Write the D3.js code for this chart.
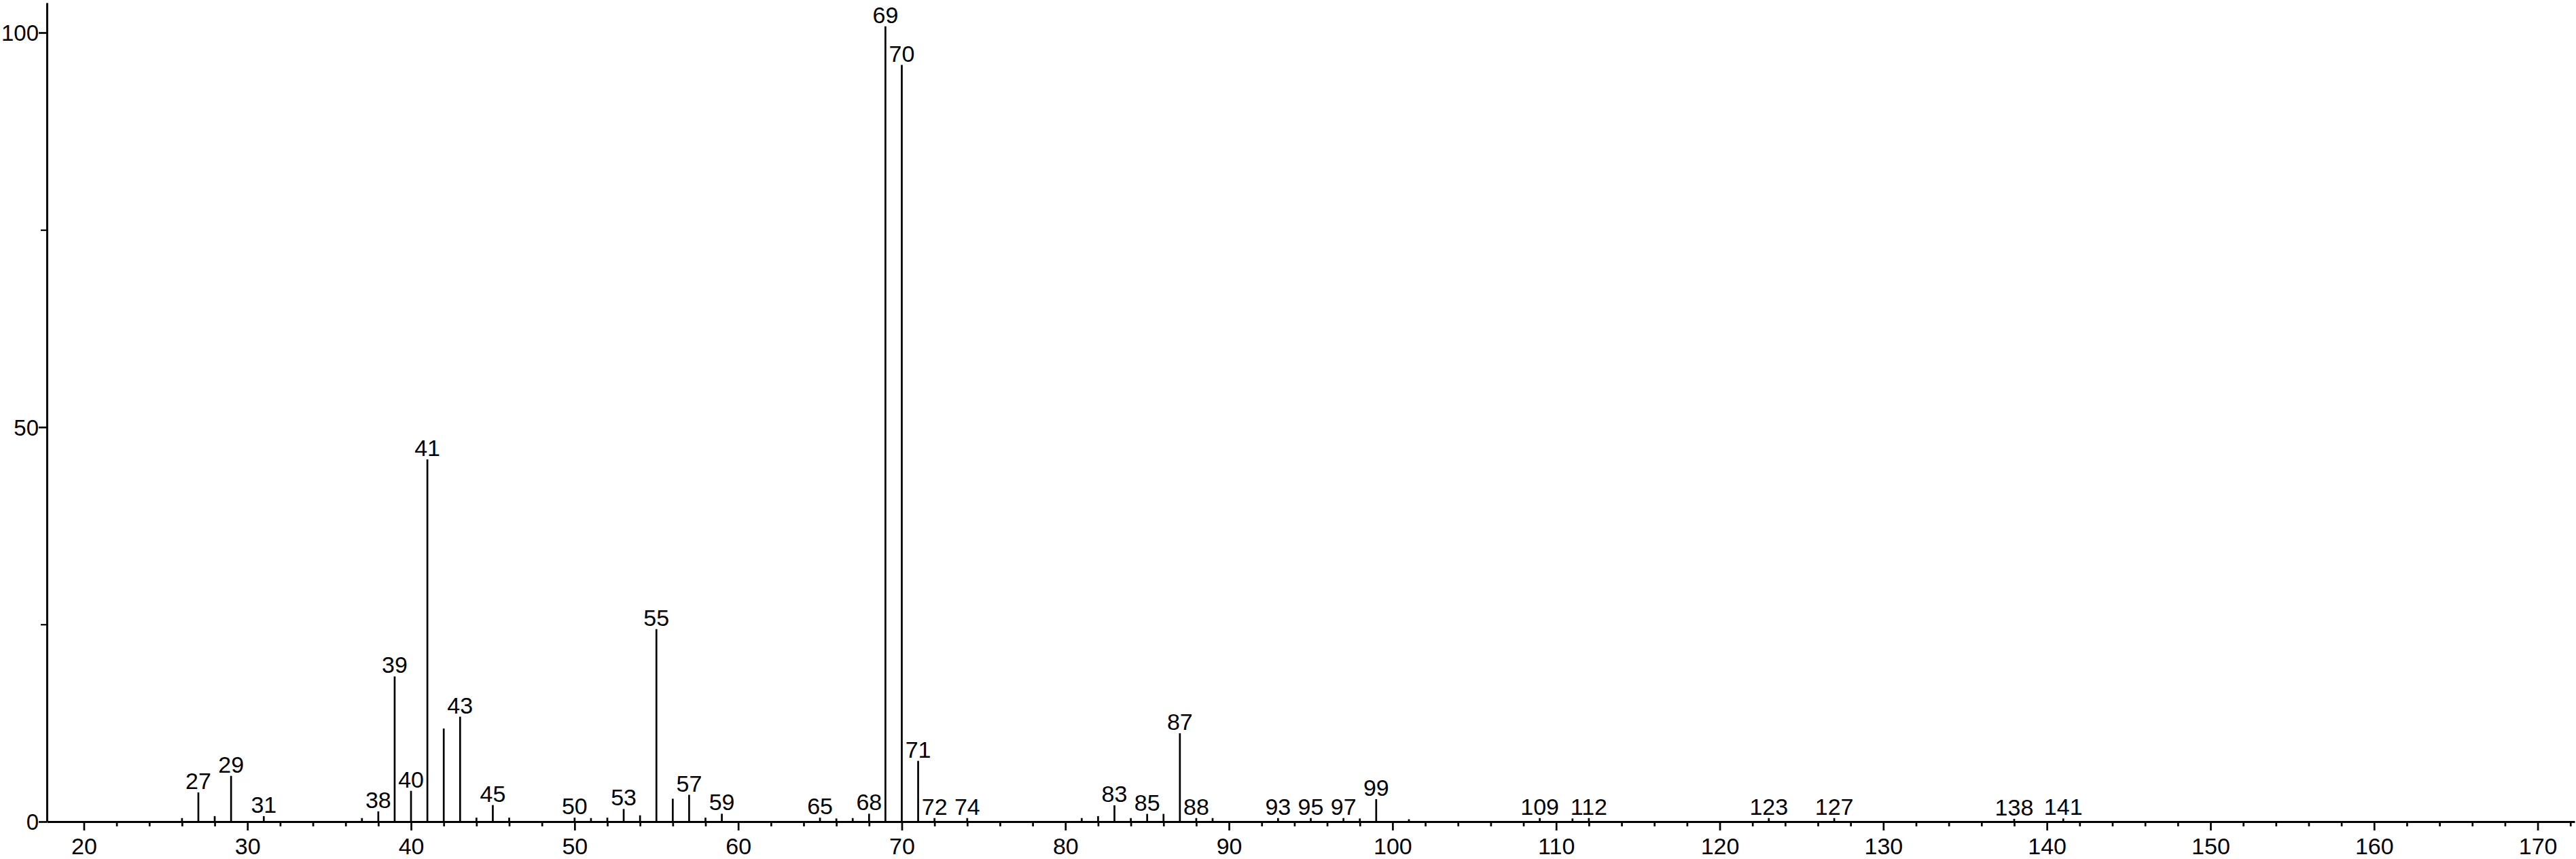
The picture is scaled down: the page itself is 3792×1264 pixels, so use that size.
<!DOCTYPE html>
<html>
<head>
<meta charset="utf-8">
<script src="https://cdn.jsdelivr.net/npm/d3@7/dist/d3.min.js"></script>
<style>
  html, body { margin: 0; padding: 0; background: #fff; }
  svg { display: block; }
  text { font-family: "Liberation Sans", Arial, Helvetica, sans-serif; fill: #000; }
</style>
</head>
<body>
<svg id="chart" width="3792" height="1264"></svg>
<script>
// m/z values of the peaks
const masses = [26, 27, 28, 29, 31, 37, 38, 39, 40, 41, 42, 43, 44, 45, 46,
  50, 51, 52, 53, 54, 55, 56, 57, 58, 59, 65, 66, 67, 68, 69, 70, 71, 72, 74,
  81, 82, 83, 84, 85, 86, 87, 88, 89, 93, 95, 97, 98, 99, 101,
  109, 111, 112, 123, 127, 138, 141];
// relative intensities
const intensities = [0.45, 3.7, 0.7, 5.8, 0.7, 0.45, 1.3, 18.4, 3.9, 45.9, 11.8, 13.3, 0.5, 2.1, 0.5,
  0.5, 0.45, 0.5, 1.6, 0.8, 24.4, 2.9, 3.4, 0.5, 1.0, 0.5, 0.4, 0.45, 1.0, 100.8, 95.9, 7.7, 0.45, 0.45,
  0.45, 0.7, 2.07, 0.45, 0.98, 0.98, 11.2, 0.45, 0.45, 0.45, 0.45, 0.45, 0.4, 2.85, 0.3,
  0.45, 0.4, 0.45, 0.45, 0.45, 0.35, 0.4];
// peaks that carry a label
const labeledMasses = [27, 29, 31, 38, 39, 40, 41, 43, 45, 50, 53, 55, 57, 59, 65, 68, 69, 70, 71, 72, 74,
  83, 85, 87, 88, 93, 95, 97, 99, 109, 112, 123, 127, 138, 141];
// axis ticks
const xMajorTicks = [20, 30, 40, 50, 60, 70, 80, 90, 100, 110, 120, 130, 140, 150, 160, 170];
const xMinorTicks = d3.range(22, 173, 2).filter(v => v % 10 !== 0);
const yMajorTicks = [0, 50, 100];
const yMinorTicks = [25, 75];

const svg = d3.select("#chart");
const x = d3.scaleLinear().domain([17.74, 172.26]).range([69, 3790]);
const y = d3.scaleLinear().domain([0, 100]).range([1209, 48]);
const yTop = 103.8;
const FONT = "'Liberation Sans', Arial, Helvetica, sans-serif";

const peaks = masses.map((m, i) => ({ m, v: intensities[i] }));

// x axis minor ticks
svg.append("g")
  .attr("transform", `translate(0,${y(0)})`)
  .call(d3.axisBottom(x).tickValues(xMinorTicks).tickSize(7).tickSizeOuter(0).tickFormat(""))
  .call(g => g.select(".domain").remove())
  .call(g => g.selectAll(".tick line").attr("stroke", "#000").attr("stroke-width", 2.7));

// x axis major ticks + labels
svg.append("g")
  .attr("transform", `translate(0,${y(0)})`)
  .call(d3.axisBottom(x).tickValues(xMajorTicks).tickSize(13).tickSizeOuter(0).tickFormat(d3.format("d")))
  .call(g => g.select(".domain").attr("stroke", "#000").attr("stroke-width", 3))
  .call(g => g.selectAll(".tick line").attr("stroke", "#000").attr("stroke-width", 2.7))
  .call(g => g.selectAll(".tick text")
      .attr("y", 48).attr("dy", 0)
      .style("font-size", "34px")
      .style("font-family", FONT)
      .attr("fill", "#000"));

// y axis minor ticks
svg.append("g")
  .attr("transform", `translate(${x.range()[0]},0)`)
  .call(d3.axisLeft(y).tickValues(yMinorTicks).tickSize(9).tickSizeOuter(0).tickFormat(""))
  .call(g => g.select(".domain").remove())
  .call(g => g.selectAll(".tick line").attr("stroke", "#000").attr("stroke-width", 2.2));

// y axis major
const yAxisScale = y.copy().domain([0, yTop]).range([y(0), y(yTop)]);
svg.append("g")
  .attr("transform", `translate(${x.range()[0]},0)`)
  .call(d3.axisLeft(yAxisScale).tickValues(yMajorTicks).tickSize(12).tickSizeOuter(0).tickFormat(d3.format("d")))
  .call(g => g.select(".domain").attr("stroke", "#000").attr("stroke-width", 3))
  .call(g => g.selectAll(".tick line").attr("stroke", "#000").attr("stroke-width", 2.7))
  .call(g => g.selectAll(".tick text")
      .attr("x", -12).attr("dy", "0.36em")
      .style("font-size", "33px")
      .style("font-family", FONT)
      .attr("fill", "#000"));

// peak stems
svg.append("g")
  .selectAll("line")
  .data(peaks)
  .join("line")
  .attr("x1", d => x(d.m)).attr("x2", d => x(d.m))
  .attr("y1", y(0)).attr("y2", d => y(d.v))
  .attr("stroke", "#000").attr("stroke-width", 2.7);

// peak labels
svg.append("g")
  .selectAll("text")
  .data(peaks.filter(d => labeledMasses.includes(d.m)))
  .join("text")
  .attr("x", d => x(d.m))
  .attr("y", d => y(d.v) - 5)
  .attr("text-anchor", "middle")
  .style("font-size", "34px")
  .style("font-family", FONT)
  .text(d => d.m);
</script>
</body>
</html>
